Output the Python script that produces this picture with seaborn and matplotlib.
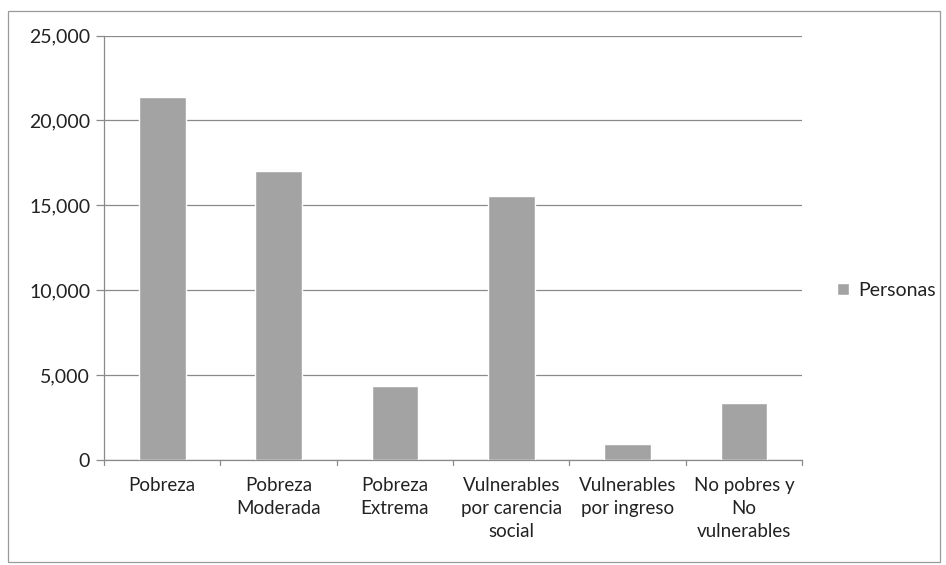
import pandas as pd
import matplotlib
matplotlib.use('Agg')
import matplotlib.pyplot as plt
import seaborn as sns
from matplotlib.patches import Rectangle

# datos
categorias = ['Pobreza', 'Pobreza\nModerada', 'Pobreza\nExtrema',
              'Vulnerables\npor carencia\nsocial', 'Vulnerables\npor ingreso',
              'No pobres y\nNo\nvulnerables']
personas = [21400, 17050, 4370, 15550, 940, 3350]
serie = 'Personas'

df = pd.DataFrame({'categoria': categorias, 'personas': personas, 'serie': serie})

sns.set_theme(style='white')
plt.rcParams['font.family'] = ['Lato', 'DejaVu Sans']

fig = plt.figure(figsize=(9.46, 5.65), dpi=100)
ax = fig.add_axes([0.11, 0.186, 0.738, 0.751])

sns.barplot(data=df, x='categoria', y='personas', hue='serie',
            palette=['#a3a3a3'], width=0.4, saturation=1, ax=ax, zorder=3)

ax.set_ylim(0, 25000)
ax.set_yticks(range(0, 25001, 5000))
ax.set_yticklabels([f'{v:,}' for v in range(0, 25001, 5000)], fontsize=14, color='#222222')
ax.yaxis.grid(True, color='#8a8a8a', linewidth=0.9, zorder=0)
ax.set_axisbelow(True)

ax.set_xlim(-0.5, len(categorias) - 0.5)
ax.set_xticks(range(len(categorias)))
ax.set_xticklabels(categorias, fontsize=13.5, color='#222222', linespacing=1.45)
ax.tick_params(axis='x', length=0, pad=12)
ax.tick_params(axis='y', length=6, width=0.9, color='#8a8a8a', direction='out', left=True, pad=4)
# marcas entre categorias
for b in range(len(categorias) + 1):
    ax.plot([b - 0.5, b - 0.5], [0, -0.012], transform=ax.get_xaxis_transform(),
            color='#8a8a8a', linewidth=0.9, clip_on=False)

for s in ['top', 'right']:
    ax.spines[s].set_visible(False)
for s in ['left', 'bottom']:
    ax.spines[s].set_color('#8a8a8a')
    ax.spines[s].set_linewidth(0.9)

ax.set_xlabel('')
ax.set_ylabel('')

leg = ax.legend(loc='center left', bbox_to_anchor=(1.025, 0.4), frameon=False,
                fontsize=14, handlelength=0.6, handleheight=0.6, handletextpad=0.5)
for t in leg.get_texts():
    t.set_color('#222222')

# borde del grafico
fig.patches.append(Rectangle((8 / 946, 3 / 565), 932 / 946, 551 / 565, transform=fig.transFigure,
                             fill=False, edgecolor='#9a9a9a', linewidth=0.9))

fig.savefig('out.png', dpi=100)
